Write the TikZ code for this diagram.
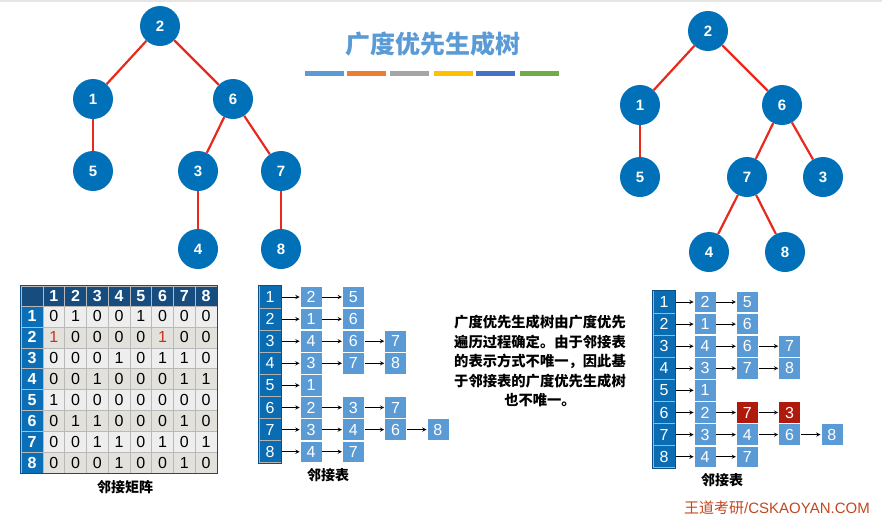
\documentclass[tikz,border=0pt]{standalone}
\usepackage{fontspec}
\setmainfont{Liberation Sans}
\newfontfamily\cjk{Noto Sans CJK SC}
\definecolor{nodeblue}{HTML}{0070B8}
\definecolor{edgered}{HTML}{E8291C}
\definecolor{titleblue}{HTML}{5B9BD5}
\definecolor{boxblue}{HTML}{5B9BD5}
\definecolor{boxred}{HTML}{B01A0C}
\definecolor{listblue}{HTML}{0A6CB2}
\definecolor{listdark}{HTML}{0B4F86}
\definecolor{headnavy}{HTML}{164D7E}
\definecolor{headblue}{HTML}{0B6FB7}
\definecolor{mlight}{HTML}{EEEEEE}
\definecolor{mdark}{HTML}{E2E1DC}
\definecolor{onered}{HTML}{C8321E}
\definecolor{brandred}{HTML}{C4461E}
\definecolor{barA}{HTML}{5B9BD5}
\definecolor{barB}{HTML}{ED7D31}
\definecolor{barC}{HTML}{A5A5A5}
\definecolor{barD}{HTML}{FFC000}
\definecolor{barE}{HTML}{4472C4}
\definecolor{barF}{HTML}{70AD47}

\begin{document}
\begin{tikzpicture}[x=1pt, y=-1pt,
    vertex/.style={circle, fill=nodeblue, minimum size=40pt, inner sep=0pt, text=white, font=\fontsize{15}{15}\selectfont\bfseries},
    tedge/.style={draw=edgered, line width=2.2pt},
    mcell/.style={rectangle, draw=gray!55, line width=0.6pt, minimum width=21.75pt, minimum height=20.9pt, inner sep=0pt, font=\fontsize{16}{16}\selectfont},
    mtop/.style={mcell, fill=headnavy, minimum height=20pt, text=white, font=\fontsize{16}{16}\selectfont\bfseries},
    mside/.style={mcell, fill=headblue, minimum width=22pt, text=white, font=\fontsize{16}{16}\selectfont\bfseries},
    vhead/.style={rectangle, fill=listblue, draw=gray!60, line width=1pt, minimum width=22pt, minimum height=22.1pt, inner sep=0pt, text=white, font=\fontsize{16}{16}\selectfont},
    abox/.style={rectangle, fill=boxblue, draw=white, line width=0.8pt, minimum width=22pt, minimum height=21.5pt, inner sep=0pt, text=white, font=\fontsize{16}{16}\selectfont},
    rbox/.style={abox, fill=boxred},
    arr/.style={->, >=stealth, line width=0.9pt},
    caption/.style={font=\cjk\fontsize{14}{16}\selectfont\bfseries}
  ]
  \useasboundingbox (0,0) rectangle (882,523);
  \fill[gray!20] (0,0) rectangle (882,2);

  % title and colour bars
  \node[text=titleblue, font=\cjk\fontsize{25}{25}\selectfont\bfseries] (title) at (433,44) {广度优先生成树};
  \foreach \x/\col [count=\i] in {305/barA, 347/barB, 390/barC, 434/barD, 476/barE, 520/barF}
    \fill[\col] (\x,71) rectangle ++(39,4.5);

  % left tree
  \node[vertex] (a2) at (160,26) {2};
  \node[vertex] (a1) at (93,99) {1};
  \node[vertex] (a6) at (233,99) {6};
  \node[vertex] (a5) at (93,171) {5};
  \node[vertex] (a3) at (198,171) {3};
  \node[vertex] (a7) at (281,171) {7};
  \node[vertex] (a4) at (198,249) {4};
  \node[vertex] (a8) at (281,249) {8};

  \draw[tedge] (a2)--(a1);
  \draw[tedge] (a2)--(a6);
  \draw[tedge] (a1)--(a5);
  \draw[tedge] (a6)--(a3);
  \draw[tedge] (a6)--(a7);
  \draw[tedge] (a3)--(a4);
  \draw[tedge] (a7)--(a8);

  % right tree
  \node[vertex] (b2) at (708,31) {2};
  \node[vertex] (b1) at (640,105) {1};
  \node[vertex] (b6) at (782,105) {6};
  \node[vertex] (b5) at (640,177) {5};
  \node[vertex] (b7) at (747,177) {7};
  \node[vertex] (b3) at (823,177) {3};
  \node[vertex] (b4) at (709,252) {4};
  \node[vertex] (b8) at (785,252) {8};

  \draw[tedge] (b2)--(b1);
  \draw[tedge] (b2)--(b6);
  \draw[tedge] (b1)--(b5);
  \draw[tedge] (b6)--(b7);
  \draw[tedge] (b6)--(b3);
  \draw[tedge] (b7)--(b4);
  \draw[tedge] (b7)--(b8);

  % adjacency matrix
  \node[mtop, minimum width=22pt] (m0-0) at (32,296) {};
  \foreach \c in {1,...,8}
    \node[mtop] (m0-\c) at ({43+(\c-0.5)*21.75},296) {\c};
  \foreach \r/\row in {1/{0,1,0,0,1,0,0,0},
                       2/{\textcolor{onered}{1},0,0,0,0,\textcolor{onered}{1},0,0},
                       3/{0,0,0,1,0,1,1,0},
                       4/{0,0,1,0,0,0,1,1},
                       5/{1,0,0,0,0,0,0,0},
                       6/{0,1,1,0,0,0,1,0},
                       7/{0,0,1,1,0,1,0,1},
                       8/{0,0,0,1,0,0,1,0}} {
    \ifodd\r \def\bg{mlight}\else \def\bg{mdark}\fi
    \node[mside] (m\r-0) at (32,{306+(\r-0.5)*20.9}) {\r};
    \foreach \v [count=\c] in \row
      \node[mcell, fill=\bg] (m\r-\c) at ({43+(\c-0.5)*21.75},{306+(\r-0.5)*20.9}) {\v};
  }
  \draw[listdark, line width=1.2pt] (m0-0.north west) rectangle (m8-8.south east);
  \node[caption] (mcap) at (125,487) {邻接矩阵};

  % adjacency list, first version
  \foreach \r/\adj in {1/{2,5}, 2/{1,6}, 3/{4,6,7}, 4/{3,7,8}, 5/{1}, 6/{2,3,7}, 7/{3,4,6,8}, 8/{4,7}} {
    \node[vhead] (p\r) at (270,{297+(\r-1)*22.1}) {\r};
    \foreach \v [count=\c, remember=\c as \p (initially 0)] in \adj {
      \node[abox] (p\r-\c) at ({311+(\c-1)*42.3},{297+(\r-1)*22.1}) {\v};
      \ifnum\p=0 \draw[arr] (p\r)--(p\r-\c);
      \else \draw[arr] (p\r-\p)--(p\r-\c); \fi
    }
  }
  \draw[listdark, line width=1.2pt] (p1.north west) rectangle (p8.south east);
  \node[caption] (pcap) at (328,475) {邻接表};

  % adjacency list, second version
  \foreach \r/\adj/\hl in {1/{2,5}/abox, 2/{1,6}/abox, 3/{4,6,7}/abox, 4/{3,7,8}/abox, 5/{1}/abox, 6/{2,7,3}/rbox, 7/{3,4,6,8}/abox, 8/{4,7}/abox} {
    \node[vhead] (q\r) at (664,{302+(\r-1)*22.1}) {\r};
    \foreach \v [count=\c, remember=\c as \p (initially 0)] in \adj {
      \ifnum\c>1 \def\st{\hl}\else \def\st{abox}\fi
      \node[\st] (q\r-\c) at ({705+(\c-1)*42.3},{302+(\r-1)*22.1}) {\v};
      \ifnum\p=0 \draw[arr] (q\r)--(q\r-\c);
      \else \draw[arr] (q\r-\p)--(q\r-\c); \fi
    }
  }
  \draw[listdark, line width=1.2pt] (q1.north west) rectangle (q8.south east);
  \node[caption] (qcap) at (722,480) {邻接表};

  % explanation
  \node[align=center, font=\cjk\fontsize{14.3}{19.5}\selectfont\bfseries] (note) at (540,361)
    {广度优先生成树由广度优先\\遍历过程确定。由于邻接表\\的表示方式不唯一，因此基\\于邻接表的广度优先生成树\\也不唯一。};

  \node[text=brandred, font=\fontsize{15}{17}\selectfont] (brand) at (777,508) {{\cjk 王道考研}/CSKAOYAN.COM};
\end{tikzpicture}
\end{document}
